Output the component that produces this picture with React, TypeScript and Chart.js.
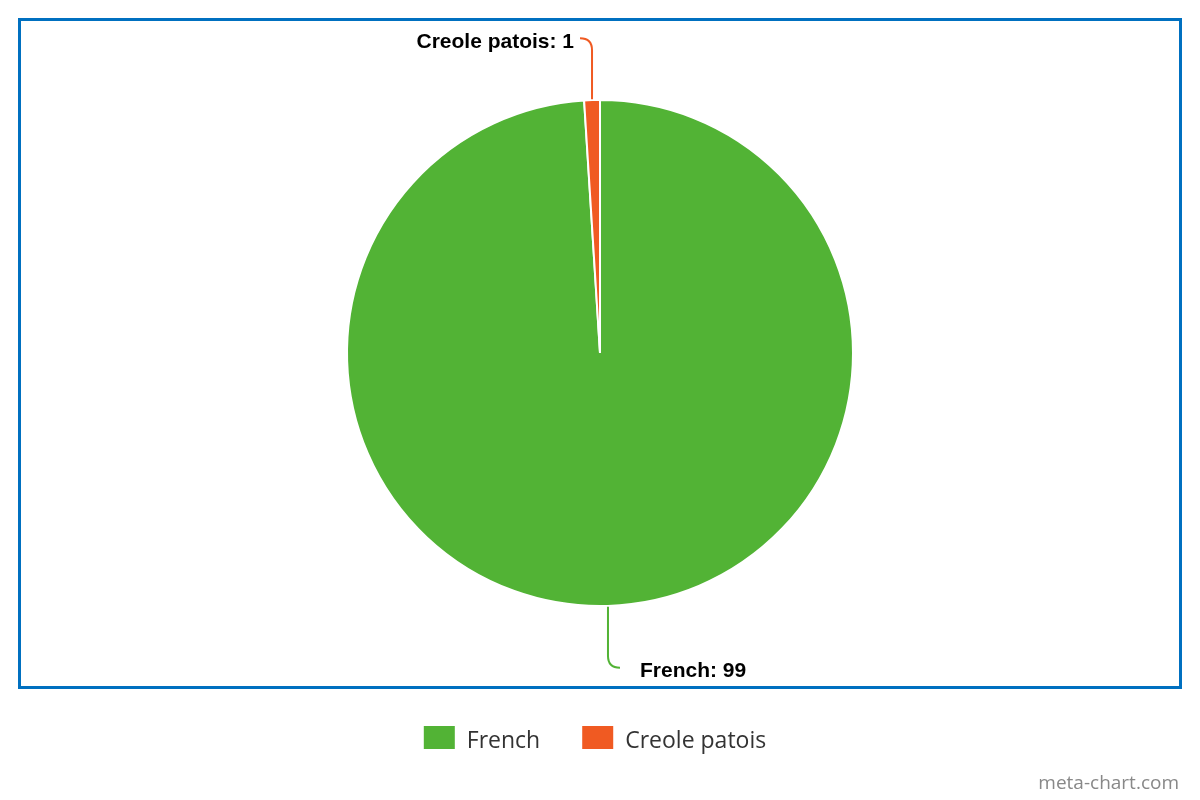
import React, { useEffect, useRef } from "react";
import { Chart, registerables } from "chart.js";

Chart.register(...registerables);

const labels: string[] = ["French", "Creole patois"];
const values: number[] = [99, 1];
const colors: string[] = ["#52B335", "#F05A22"];

const overlayPlugin = {
  id: "overlay",
  beforeDraw(chart: any) {
    const ctx = chart.ctx;
    ctx.save();
    ctx.fillStyle = "#ffffff";
    ctx.fillRect(0, 0, chart.width, chart.height);
    ctx.restore();
  },
  afterDraw(chart: any) {
    const ctx = chart.ctx;
    const meta = chart.getDatasetMeta(0);
    ctx.save();
    // frame
    ctx.strokeStyle = "#0070C0";
    ctx.lineWidth = 3;
    ctx.strokeRect(19.5, 19.5, 1161, 668);

    // leader lines & labels
    meta.data.forEach((arc: any, i: number) => {
      const { x, y, startAngle, endAngle, outerRadius } = arc.getProps(
        ["x", "y", "startAngle", "endAngle", "outerRadius"],
        true
      );
      const mid = (startAngle + endAngle) / 2;
      const ex = x + Math.cos(mid) * (outerRadius + 1);
      const ey = y + Math.sin(mid) * (outerRadius + 1);
      const up = Math.sin(mid) < 0;
      const dir = up ? -1 : 1;
      const side = Math.cos(mid) < 0 ? -1 : 1;
      const yEnd = ey + dir * 61;
      const xEnd = ex + side * 12;
      ctx.strokeStyle = colors[i];
      ctx.lineWidth = 2;
      ctx.beginPath();
      ctx.moveTo(ex, ey);
      ctx.lineTo(ex, yEnd - dir * 12);
      ctx.quadraticCurveTo(ex, yEnd, xEnd, yEnd);
      ctx.stroke();
      ctx.fillStyle = "#000000";
      ctx.font = "bold 21px 'Liberation Sans', Arial, sans-serif";
      ctx.textBaseline = "middle";
      ctx.textAlign = side < 0 ? "right" : "left";
      const txt = `${labels[i]}: ${values[i]}`;
      const gap = side < 0 ? 6 : 20;
      ctx.fillText(txt, xEnd + side * gap, yEnd + (up ? 4 : 3));
    });

    // legend
    ctx.font = "23px 'Open Sans', sans-serif";
    const boxW = 31;
    const boxH = 23;
    const gapBox = 12;
    const gapItem = 42;
    const widths = labels.map((l) => ctx.measureText(l).width);
    let total = 0;
    widths.forEach((w, i) => {
      total += boxW + gapBox + w + (i < widths.length - 1 ? gapItem : 0);
    });
    let lx = 595 - total / 2;
    const ly = 726;
    labels.forEach((l, i) => {
      ctx.fillStyle = colors[i];
      ctx.fillRect(lx, ly, boxW, boxH);
      ctx.fillStyle = "#333333";
      ctx.textAlign = "left";
      ctx.textBaseline = "alphabetic";
      ctx.fillText(l, lx + boxW + gapBox, 748);
      lx += boxW + gapBox + widths[i] + gapItem;
    });

    // watermark
    ctx.font = "19px 'Open Sans', sans-serif";
    ctx.fillStyle = "#888888";
    ctx.textAlign = "right";
    ctx.textBaseline = "alphabetic";
    ctx.fillText("meta-chart.com", 1179, 789);
    ctx.restore();
  },
};

export default function App() {
  const ref = useRef<HTMLCanvasElement | null>(null);
  useEffect(() => {
    if (!ref.current) return;
    const chart = new Chart(ref.current, {
      type: "pie",
      data: {
        labels,
        datasets: [
          {
            data: values,
            backgroundColor: colors,
            borderColor: "#ffffff",
            borderWidth: 2,
          },
        ],
      },
      options: {
        responsive: false,
        animation: false,
        layout: { padding: { top: 99, bottom: 193, left: 0, right: 0 } },
        plugins: {
          legend: { display: false },
          tooltip: { enabled: false },
        },
      },
      plugins: [overlayPlugin],
    });
    return () => chart.destroy();
  }, []);
  return (
    <div style={{ position: "absolute", left: 0, top: 0, width: 1200, height: 800 }}>
      <canvas ref={ref} width={1200} height={800} style={{ display: "block" }} />
    </div>
  );
}
